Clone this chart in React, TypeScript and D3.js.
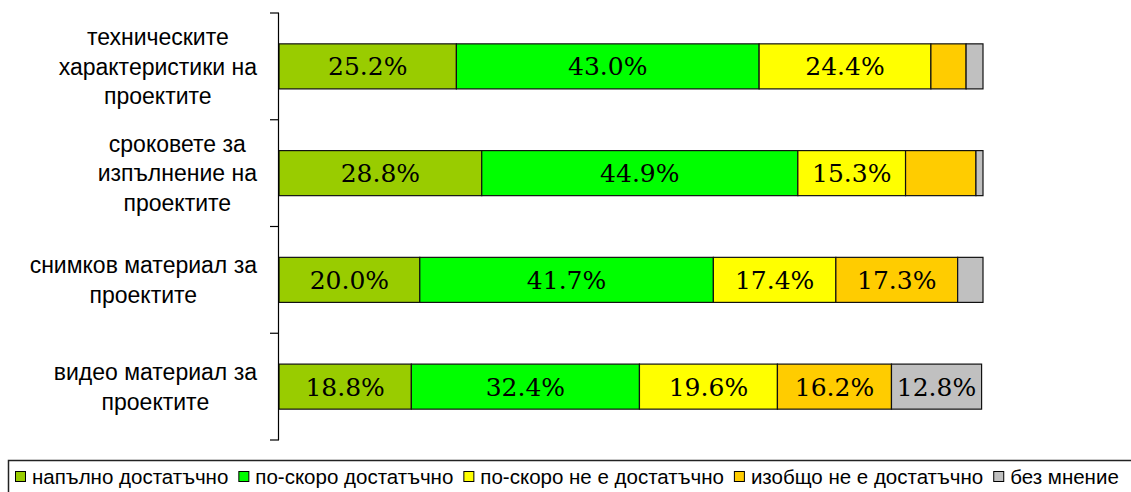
import React, { useEffect, useRef } from "react";
import * as d3 from "d3";

const categories = [
  ["техническите", "характеристики на", "проектите"],
  ["сроковете за", "изпълнение на", "проектите"],
  ["снимков материал за", "проектите"],
  ["видео материал за", "проектите"],
];

const seriesNames = [
  "напълно достатъчно",
  "по-скоро достатъчно",
  "по-скоро не е достатъчно",
  "изобщо не е достатъчно",
  "без мнение",
];

const seriesColors = ["#99CC00", "#00FF00", "#FFFF00", "#FFCC00", "#C0C0C0"];

// one row per category, one value per series (percent)
const values = [
  [25.2, 43.0, 24.4, 5.0, 2.4],
  [28.8, 44.9, 15.3, 10.0, 1.0],
  [20.0, 41.7, 17.4, 17.3, 3.6],
  [18.8, 32.4, 19.6, 16.2, 12.8],
];

const labelMin = 11; // small segments have no label in the original

const App = () => {
  const ref = useRef<SVGSVGElement>(null);

  useEffect(() => {
    const svg = d3.select(ref.current);
    svg.selectAll("*").remove();

    const width = 1131;
    const height = 492;
    const plot = { left: 279, right: 983, top: 13, bottom: 440 };

    svg.attr("width", width).attr("height", height);

    const x = d3.scaleLinear().domain([0, 100]).range([plot.left, plot.right]);
    const y = d3
      .scaleBand<number>()
      .domain(categories.map((_, i) => i))
      .range([plot.top, plot.bottom])
      .paddingInner(0.578)
      .paddingOuter(0.289);

    const rows = values.map((vals, i) => {
      let acc = 0;
      return vals.map((v, j) => {
        const seg = { cat: i, series: j, v, x0: acc, x1: acc + v };
        acc += v;
        return seg;
      });
    });

    // bars
    const g = svg.append("g");
    rows.flat().forEach(d => {
      g.append("rect")
        .attr("x", x(d.x0))
        .attr("y", y(d.cat)!)
        .attr("width", x(d.x1) - x(d.x0))
        .attr("height", y.bandwidth())
        .attr("fill", seriesColors[d.series])
        .attr("stroke", "#111")
        .attr("stroke-width", 1.2);
    });

    // value labels
    rows.flat().filter(d => d.v >= labelMin).forEach(d => {
      g.append("text")
        .attr("x", (x(d.x0) + x(d.x1)) / 2)
        .attr("y", y(d.cat)! + y.bandwidth() / 2)
        .attr("dy", "0.36em")
        .attr("text-anchor", "middle")
        .attr("font-family", "DejaVu Serif")
        .attr("font-size", 25)
        .attr("fill", "#000")
        .text(d.v.toFixed(1) + "%");
    });

    // category axis
    const step = y.step();
    const ticks = d3.range(categories.length + 1).map(i => plot.top + i * step);
    svg.append("line")
      .attr("x1", plot.left - 0.5).attr("x2", plot.left - 0.5)
      .attr("y1", plot.top).attr("y2", plot.bottom)
      .attr("stroke", "#000").attr("stroke-width", 1.2);
    ticks.forEach(t => {
      svg.append("line")
        .attr("x1", plot.left - 9).attr("x2", plot.left)
        .attr("y1", t).attr("y2", t)
        .attr("stroke", "#000").attr("stroke-width", 1.2);
    });

    // category labels: lines centred on each other, block right-aligned
    const labelRight = 257;
    const lineGap = 29.5;
    categories.forEach((lines, i) => {
      const cy = y(i)! + y.bandwidth() / 2;
      const t = svg.append("text")
        .attr("font-family", "Liberation Sans, Arial, sans-serif")
        .attr("font-size", 23)
        .attr("fill", "#000")
        .attr("text-anchor", "middle");
      const spans = lines.map((line, k) =>
        t.append("tspan")
          .attr("y", cy + (k - (lines.length - 1) / 2) * lineGap)
          .attr("dy", "0.36em")
          .text(line)
      );
      const maxW = d3.max(spans, s => (s.node() as SVGTSPanElement).getComputedTextLength()) || 0;
      spans.forEach(s => s.attr("x", labelRight - maxW / 2));
    });

    // legend
    svg.append("rect")
      .attr("x", 8.5).attr("y", 460.5)
      .attr("width", 1140).attr("height", 40)
      .attr("fill", "#fff")
      .attr("stroke", "#222").attr("stroke-width", 1.5);
    let lx = 15;
    const ly = 477;
    seriesNames.forEach((name, j) => {
      svg.append("rect")
        .attr("x", lx + 0.5).attr("y", ly - 5.5)
        .attr("width", 10).attr("height", 10)
        .attr("fill", seriesColors[j])
        .attr("stroke", "#000").attr("stroke-width", 1);
      const t = svg.append("text")
        .attr("x", lx + 17)
        .attr("y", ly)
        .attr("dy", "0.36em")
        .attr("font-family", "Liberation Sans, Arial, sans-serif")
        .attr("font-size", 20.5)
        .attr("fill", "#000")
        .text(name);
      const w = (t.node() as SVGTextElement).getComputedTextLength();
      lx += 17 + w + 10;
    });
  }, []);

  return <svg ref={ref} style={{ position: "absolute", left: 0, top: 0 }}></svg>;
};

export default App;
